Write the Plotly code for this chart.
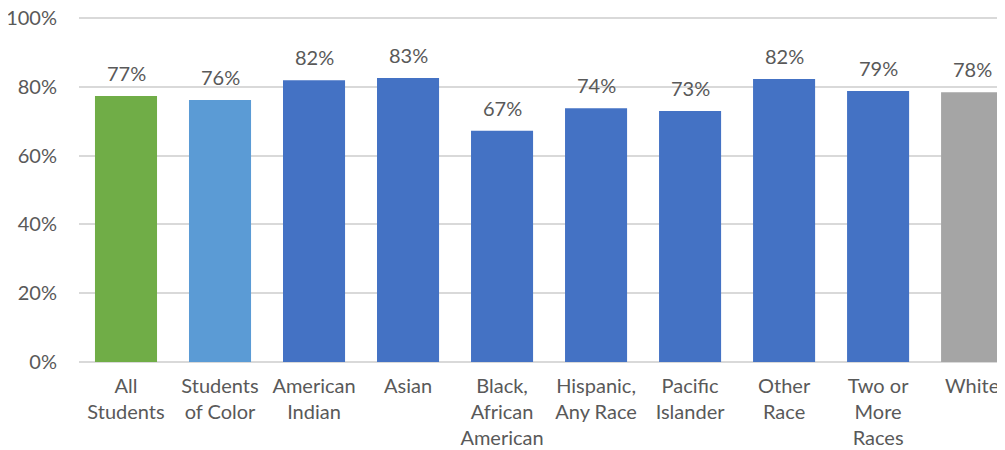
import plotly.graph_objects as go

## Data
categories = [
    "All<br>Students", "Students<br>of Color", "American<br>Indian", "Asian",
    "Black,<br>African<br>American", "Hispanic,<br>Any Race", "Pacific<br>Islander",
    "Other<br>Race", "Two or<br>More<br>Races", "White",
]
rates = [77.3, 76.2, 81.9, 82.6, 67.2, 73.8, 73.0, 82.3, 78.8, 78.4]
bar_colors = [
    "#70AD47", "#5B9BD5", "#4472C4", "#4472C4", "#4472C4",
    "#4472C4", "#4472C4", "#4472C4", "#4472C4", "#A5A5A5",
]
y_ticks = [0, 20, 40, 60, 80, 100]
y_tick_labels = [f"{v}%" for v in y_ticks]

FONT = "Lato, 'Open Sans', sans-serif"
TEXT_COLOR = "#595959"
FONT_SIZE = 20

## Figure
fig = go.Figure()
fig.add_trace(go.Bar(
    x=categories, y=rates,
    marker=dict(color=bar_colors, line=dict(width=0)),
    width=0.66,
))

# value labels above each bar
for cat, val in zip(categories, rates):
    fig.add_annotation(
        x=cat, y=val, text=f"{val:.0f}%", showarrow=False,
        yanchor="bottom", yshift=9,
        font=dict(size=FONT_SIZE, color=TEXT_COLOR, family=FONT),
    )

# page body adds an 8px offset, so the figure is a bit smaller than the window
fig.update_layout(
    width=997, height=442,
    margin=dict(l=71, r=0, t=9, b=88),
    paper_bgcolor="white", plot_bgcolor="white",
    showlegend=False,
    font=dict(family=FONT, size=FONT_SIZE, color=TEXT_COLOR),
)
fig.update_xaxes(
    range=[-0.5, 9.35], showgrid=False, showline=False, automargin=False,
    ticks="outside", ticklen=6, tickcolor="rgba(0,0,0,0)",
    tickfont=dict(size=FONT_SIZE, color=TEXT_COLOR, family=FONT),
)
fig.update_yaxes(
    range=[0, 100.3], tickvals=y_ticks, ticktext=y_tick_labels, automargin=False,
    ticklabeloverflow="allow",
    showgrid=True, gridcolor="#D9D9D9", gridwidth=1.5,
    zeroline=True, zerolinecolor="#D9D9D9", zerolinewidth=1.5,
    showline=False, ticks="outside", ticklen=17, tickcolor="rgba(0,0,0,0)",
    tickfont=dict(size=FONT_SIZE, color=TEXT_COLOR, family=FONT),
)

fig.write_html("out.html")
